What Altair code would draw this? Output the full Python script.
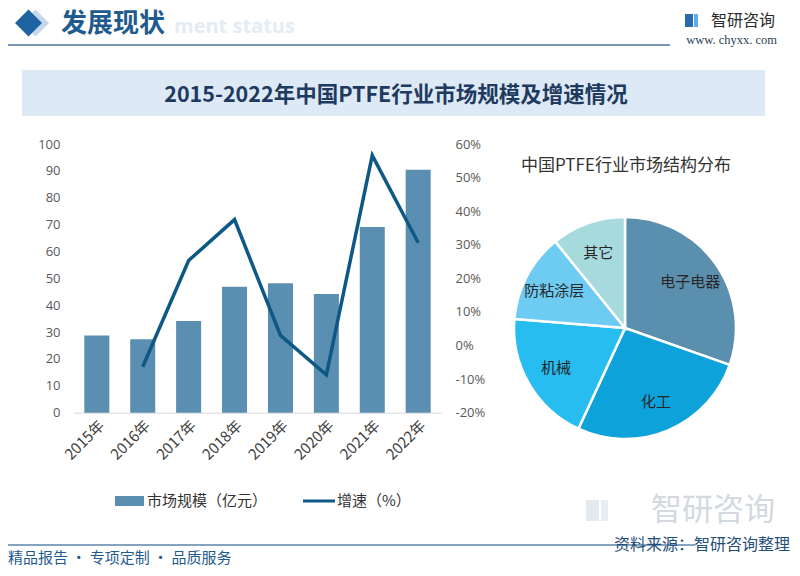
import altair as alt
import pandas as pd

# ---------------- data ----------------
years = ["2015年", "2016年", "2017年", "2018年", "2019年", "2020年", "2021年", "2022年"]
market_size = [28.7, 27.3, 34.1, 46.9, 48.2, 44.2, 69.1, 90.4]
growth_years = ["2016年", "2017年", "2018年", "2019年", "2020年", "2021年", "2022年"]
growth = [-6.3, 25.3, 37.5, 3.0, -8.7, 56.6, 30.6]

pie_cats = ["电子电器", "化工", "机械", "防粘涂层", "其它"]
pie_vals = [30.4, 26.5, 19.4, 12.9, 10.8]
pie_colors = ["#5b8fae", "#0ea2da", "#27bdf0", "#6ecbf2", "#a6dadc"]

left_ticks = [0, 10, 20, 30, 40, 50, 60, 70, 80, 90, 100]
right_ticks = [-20, -10, 0, 10, 20, 30, 40, 50, 60]

BAR_COLOR = "#5b8fb1"
LINE_COLOR = "#0e5886"
CJK = "Noto Sans CJK SC"
W, H = 784, 560

bars_df = pd.DataFrame({"year": years, "size": market_size})
line_df = pd.DataFrame({"year": growth_years, "g": growth})
pie_df = pd.DataFrame({"cat": pie_cats, "v": pie_vals, "idx": list(range(len(pie_cats)))})

one = pd.DataFrame({"a": [0]})


def txt(s, x, y, size, color, weight="normal", align="left", font=CJK, baseline="middle", angle=0):
    return alt.Chart(pd.DataFrame({"t": [s]})).mark_text(
        align=align, baseline=baseline, fontSize=size, font=font,
        fontWeight=weight, color=color, angle=angle
    ).encode(text="t:N", x=alt.value(x), y=alt.value(y))


def rect(x, x2, y, y2, color):
    return alt.Chart(one).mark_rect(color=color).encode(
        x=alt.value(x), x2=alt.value(x2), y=alt.value(y), y2=alt.value(y2))


def rule(x, x2, y, color, w):
    return alt.Chart(one).mark_rule(color=color, strokeWidth=w).encode(
        x=alt.value(x), x2=alt.value(x2), y=alt.value(y))


# ---------------- header ----------------
header = [
    txt("ment status", 166, 19, 20, "#e4ecf4", weight="bold", align="left", font="Open Sans"),
    alt.Chart(one).mark_point(shape="diamond", filled=True, size=729, color="#c5d8ea", opacity=1).encode(
        x=alt.value(27.5), y=alt.value(15)),
    alt.Chart(one).mark_point(shape="diamond", filled=True, size=729, color="#1f63a3", opacity=1).encode(
        x=alt.value(20.5), y=alt.value(15)),
    txt("发展现状", 53, 16, 26, "#1f5b8e", weight="bold"),
    rule(-8, 662, 37, "#7a98b6", 2),
    rect(677, 685, 6, 19, "#2a68b0"),
    rect(686, 690, 6, 19, "#5aaee6"),
    txt("智研咨询", 767, 13, 16, "#2b2b2b", align="right"),
    txt("www. chyxx. com", 769, 32, 12.5, "#2a3f55", align="right", font="Liberation Serif"),
    rect(14, 757, 62, 108, "#dde9f4"),
    txt("2015-2022年中国PTFE行业市场规模及增速情况", 388, 88, 21.5, "#1e3a5f", weight="bold", align="center"),
]

# ---------------- bar + line ----------------
x_scale = alt.Scale(domain=years, range=[65.85, 433.15], paddingInner=0.455, paddingOuter=0.2275)
x_axis = alt.Axis(orient="bottom", offset=-155.3, labelAngle=-45, ticks=False, domainColor="#d9d9d9",
                  domainWidth=1, labelPadding=5, labelFontSize=15, labelFont=CJK, labelColor="#404040",
                  title=None, grid=False)

bars = alt.Chart(bars_df).mark_bar(color=BAR_COLOR).encode(
    x=alt.X("year:N", scale=x_scale, axis=x_axis, sort=years),
    y=alt.Y("size:Q", scale=alt.Scale(domain=[0, 100], range=[404.7, 136], nice=False),
            axis=alt.Axis(orient="left", offset=-54, domain=False, ticks=False, grid=False,
                          labelPadding=2, values=left_ticks, labelFontSize=13, labelFont="Open Sans",
                          labelColor="#595959", title=None)),
)

line = alt.Chart(line_df).mark_line(color=LINE_COLOR, strokeWidth=3.5).encode(
    x=alt.X("year:N", scale=x_scale, axis=x_axis, sort=years),
    y=alt.Y("g:Q", scale=alt.Scale(domain=[-20, 60], range=[404.7, 136], nice=False),
            axis=alt.Axis(orient="right", offset=-339, domain=False, ticks=False, grid=False,
                          labelPadding=2, values=right_ticks, labelFontSize=13, labelFont="Open Sans",
                          labelColor="#595959", title=None, labelExpr="datum.value + '%'")),
)

combo = alt.layer(bars, line).resolve_scale(y="independent")

legend = [
    rect(107, 136, 488, 498, BAR_COLOR),
    txt("市场规模（亿元）", 139, 493, 15, "#333333"),
    rule(295, 327, 493, LINE_COLOR, 3),
    txt("增速（%）", 329, 493, 15, "#333333"),
]

# ---------------- pie ----------------
theta = alt.Theta("v:Q", stack=True)
pie_arc = alt.Chart(pie_df).mark_arc(outerRadius=111, stroke="white", strokeWidth=2.5).encode(
    theta=theta,
    order=alt.Order("idx:Q"),
    color=alt.Color("cat:N", scale=alt.Scale(domain=pie_cats, range=pie_colors), legend=None),
    x=alt.value(617), y=alt.value(320),
)
pie_txt = alt.Chart(pie_df).mark_text(radius=80, fontSize=15, font=CJK, color="#262626").encode(
    theta=theta, order=alt.Order("idx:Q"), text="cat:N",
    x=alt.value(617), y=alt.value(320),
)
pie = alt.layer(pie_arc, pie_txt)
pie_title = txt("中国PTFE行业市场结构分布", 618, 158, 17, "#333333", align="center")

# ---------------- footer ----------------
footer = [
    txt("智研咨询", 767, 503, 31, "#d3d9df", align="right"),
    rect(578, 591, 492, 513, "#e3e9ef"),
    rect(593, 600, 492, 513, "#e9eef3"),
    rule(-8, 687, 537, "#5b85ad", 1.5),
    txt("精品报告 · 专项定制 · 品质服务", 0, 550, 15, "#1f5b8e"),
    txt("资料来源：智研咨询整理", 782, 537, 16, "#1f4e79", align="right"),
]

chart = alt.layer(
    *header, combo, *legend, pie, pie_title, *footer
).resolve_scale(
    x="independent", y="independent", color="independent", theta="independent"
).properties(
    width=W, height=H, autosize="none", padding=0, background="white"
).configure_view(stroke=None)

chart.save("out.html", embed_options={"renderer": "svg", "actions": False})
